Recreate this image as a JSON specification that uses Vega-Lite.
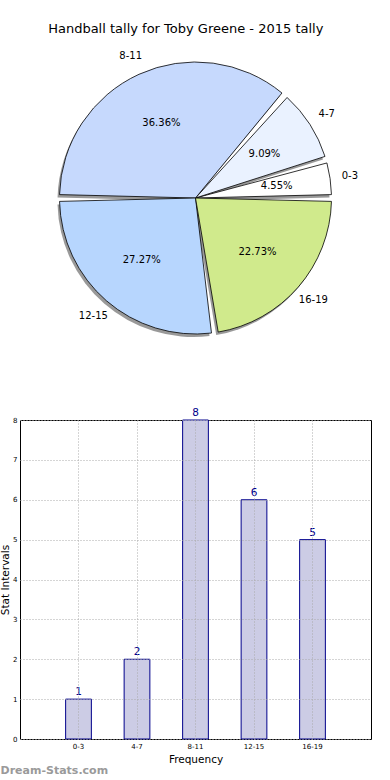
{
  "$schema": "https://vega.github.io/schema/vega-lite/v6.json",
  "padding": {"top": 23, "left": 0, "right": 0, "bottom": 0},
  "datasets": {
    "tally": [
      {"interval": "0-3", "count": 1, "pct": "4.55%", "idx": 1},
      {"interval": "4-7", "count": 2, "pct": "9.09%", "idx": 2},
      {"interval": "8-11", "count": 8, "pct": "36.36%", "idx": 3},
      {"interval": "12-15", "count": 6, "pct": "27.27%", "idx": 4},
      {"interval": "16-19", "count": 5, "pct": "22.73%", "idx": 5}
    ]
  },
  "title": {"text": "Handball tally for Toby Greene - 2015 tally", "fontSize": 13, "font": "DejaVu Sans", "fontWeight": "normal", "color": "black", "offset": 3, "anchor": "middle", "frame": "bounds"},
  "spacing": 50,
  "config": {"font": "DejaVu Sans", "view": {"stroke": null}},
  "vconcat": [
    {
      "width": 351,
      "height": 318,
      "data": {"name": "tally"},
      "encoding": {
        "theta": {"field": "count", "type": "quantitative", "stack": true, "scale": {"range": [1.5708, 7.854]}},
        "order": {"field": "idx", "sort": "descending"}
      },
      "layer": [
        {"mark": {"type": "arc", "radius": 136, "padAngle": 0.05, "fill": "#555555", "opacity": 0.6, "xOffset": -2, "yOffset": 3}},
        {
          "mark": {"type": "arc", "radius": 136, "padAngle": 0.05, "stroke": "black", "strokeWidth": 0.8},
          "encoding": {
            "color": {
              "field": "interval", "type": "nominal",
              "scale": {"domain": ["0-3", "4-7", "8-11", "12-15", "16-19"], "range": ["#ffffff", "#eaf2ff", "#c6d9fd", "#b7d6fe", "#d0ea8c"]},
              "legend": null
            }
          }
        },
        {"mark": {"type": "text", "radius": 82, "fontSize": 10, "color": "black"}, "encoding": {"text": {"field": "pct"}}},
        {"mark": {"type": "text", "radius": 156, "fontSize": 10, "color": "black"}, "encoding": {"text": {"field": "interval"}}}
      ]
    },
    {
      "width": 351,
      "height": 319,
      "data": {"name": "tally"},
      "view": {"stroke": "black", "strokeWidth": 1},
      "title": {"text": "Dream-Stats.com", "orient": "bottom", "anchor": "start", "frame": "bounds", "fontSize": 11, "fontWeight": "bold", "color": "#9a9a9a", "offset": 0},
      "encoding": {
        "x": {
          "field": "interval", "type": "nominal", "sort": null,
          "scale": {"paddingInner": 0.56, "paddingOuter": 0.78},
          "axis": {"title": "Frequency", "labelAngle": 0, "labelFontSize": 7, "titleFontSize": 10.5, "titleFontWeight": "normal", "grid": true, "gridDash": [1, 2], "gridColor": "#aaaaaa", "bandPosition": 0.5, "ticks": false, "domain": false, "labelPadding": 3, "titlePadding": 5, "labelColor": "black", "titleColor": "black", "zindex": 1}
        },
        "y": {
          "field": "count", "type": "quantitative",
          "scale": {"domain": [0, 8], "nice": false},
          "axis": {"title": "Stat Intervals", "values": [0, 1, 2, 3, 4, 5, 6, 7, 8], "labelFontSize": 7, "titleFontSize": 10.5, "titleFontWeight": "normal", "grid": true, "gridDash": [1, 2], "gridColor": "#aaaaaa", "ticks": false, "domain": false, "labelPadding": 3, "titlePadding": 2, "labelColor": "black", "titleColor": "black", "zindex": 1}
        }
      },
      "layer": [
        {"mark": {"type": "bar", "fill": "#cccce5", "stroke": "#00008b", "strokeWidth": 1}},
        {"mark": {"type": "text", "baseline": "bottom", "dy": -2, "fontSize": 10.5, "color": "#00008b"}, "encoding": {"text": {"field": "count"}}}
      ]
    }
  ]
}
